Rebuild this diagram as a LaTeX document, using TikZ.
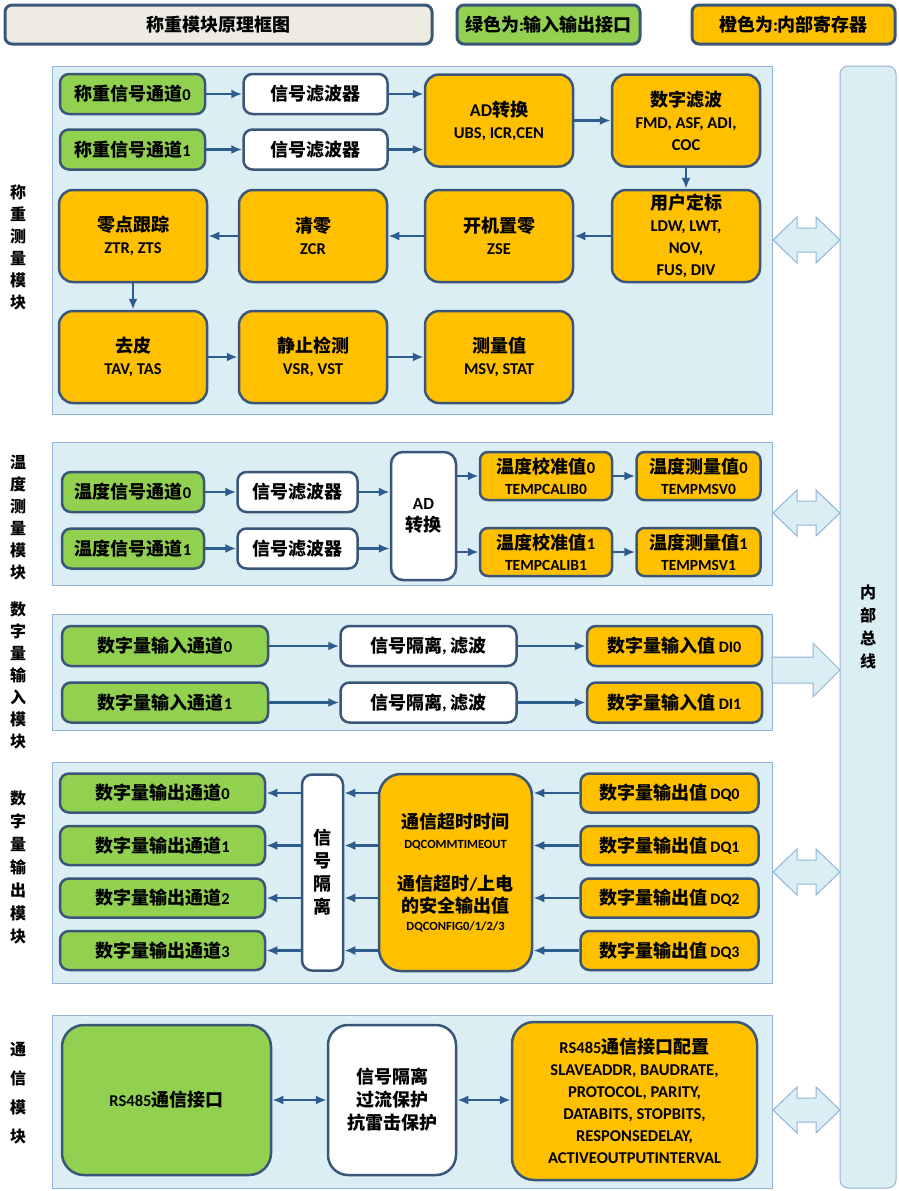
\documentclass[tikz,border=0pt]{standalone}
\usepackage{fontspec}
\setmainfont{Noto Sans CJK SC}
\newfontfamily\lat{Carlito}
\usetikzlibrary{arrows.meta,positioning,calc}
\definecolor{RegOrange}{HTML}{FFC000}
\definecolor{IoGreen}{HTML}{92D050}
\definecolor{BoxEdge}{HTML}{3A5779}
\definecolor{PanelBlue}{HTML}{DBEEF4}
\definecolor{PanelEdge}{HTML}{95B3D7}
\definecolor{ArrBlue}{HTML}{2F5C8F}
\definecolor{TitleGrey}{HTML}{EEECE1}
\newcommand{\sz}[2]{\fontsize{#1}{#2}\selectfont}
\newcommand{\en}[2][16.5]{{\lat\sz{#1}{22}#2}}
\newcommand{\busarrow}[1]{%
  \draw[fat] (773,#1) -- (797,#1-23) -- (797,#1-12) -- (816,#1-12) -- (816,#1-23)
    -- (840,#1) -- (816,#1+23) -- (816,#1+12) -- (797,#1+12) -- (797,#1+23) -- cycle;}

\begin{document}
\begin{tikzpicture}[x=1pt,y=-1pt,
    box/.style={rounded corners=9pt,draw=BoxEdge,line width=2.5pt,inner sep=1pt,align=center,font=\bfseries\sz{18}{22}},
    io/.style={box,fill=IoGreen},
    reg/.style={box,fill=RegOrange},
    proc/.style={box,fill=white},
    row/.style={minimum height=40pt},
    big/.style={minimum width=148pt,minimum height=92pt,rounded corners=14pt},
    hint/.style={box,line width=3pt,minimum height=39pt,rounded corners=7pt},
    panel/.style={draw=PanelEdge,fill=PanelBlue,line width=1pt,inner sep=0pt},
    fat/.style={draw=PanelEdge,fill=PanelBlue,line width=1pt},
    side/.style={align=center,font=\bfseries\sz{16}{22}},
    arr/.style={-{Latex[length=11pt,width=9pt]},ArrBlue,line width=2.5pt},
    darr/.style={{Latex[length=11pt,width=9pt]}-{Latex[length=11pt,width=9pt]},ArrBlue,line width=2.5pt}
  ]
  \useasboundingbox (0,0) rectangle (899,1191);

  % legend
  \node[hint,fill=TitleGrey,minimum width=427pt] (title) at (218.5,24.5) {称重模块原理框图};
  \node[hint,fill=IoGreen,minimum width=183pt] (keyio) at (548.5,24.5) {绿色为{\lat :}输入输出接口};
  \node[hint,fill=RegOrange,minimum width=203pt] (keyreg) at (793.5,24.5) {橙色为{\lat :}内部寄存器};

  % panels and bus
  \node[panel,minimum width=720pt,minimum height=348pt] (pw) at (412,240) {};
  \node[panel,minimum width=720pt,minimum height=143pt] (pt) at (412,513.5) {};
  \node[panel,minimum width=720pt,minimum height=116pt] (pdi) at (412,672) {};
  \node[panel,minimum width=720pt,minimum height=221pt] (pdo) at (412,872.5) {};
  \node[panel,minimum width=720pt,minimum height=173pt] (pc) at (412,1101.5) {};
  \node[panel,rounded corners=8pt,minimum width=56pt,minimum height=1122pt] (bus) at (868,627) {};
  \node[side,font=\bfseries\sz{16}{23}] (bustxt) at (868,627) {内\\部\\总\\线};

  \busarrow{240}
  \busarrow{513}
  \busarrow{872}
  \busarrow{1110}
  \draw[fat] (772,657) -- (813,657) -- (813,643) -- (840,670) -- (813,697) -- (813,683) -- (772,683) -- cycle;

  % side labels
  \node[side] (lw) at (18,247) {称\\重\\测\\量\\模\\块};
  \node[side] (lt) at (18,518) {温\\度\\测\\量\\模\\块};
  \node[side] (ldi) at (18,675) {数\\字\\量\\输\\入\\模\\块};
  \node[side,font=\bfseries\sz{16}{23}] (ldo) at (18,867) {数\\字\\量\\输\\出\\模\\块};
  \node[side,font=\bfseries\sz{16}{29}] (lc) at (18,1093) {通\\信\\模\\块};

  % weighing
  \node[io,row,minimum width=145pt] (wc0) at (132.5,94) {称重信号通道\en{0}};
  \node[io,row,minimum width=145pt,below=13pt of wc0] (wc1) {称重信号通道\en{1}};
  \node[proc,row,minimum width=144pt,right=36pt of wc0] (wf0) {信号滤波器};
  \node[proc,row,minimum width=144pt,right=36pt of wc1] (wf1) {信号滤波器};
  \node[reg,big] (wad) at (499,120.5) {{\lat AD}转换\\\en{UBS, ICR,CEN}};
  \node[reg,big] (wdf) at (686,120.5) {数字滤波\\\en{FMD, ASF, ADI,}\\\en{COC}};
  \node[reg,big] (wcal) at (686,236) {用户定标\\\en{LDW, LWT,}\\\en{NOV,}\\\en{FUS, DIV}};
  \node[reg,big] (wzse) at (499,236) {开机置零\\\en{ZSE}};
  \node[reg,big] (wzcr) at (313,236) {清零\\\en{ZCR}};
  \node[reg,big] (wztr) at (133,236) {零点跟踪\\\en{ZTR, ZTS}};
  \node[reg,big] (wtare) at (133,357) {去皮\\\en{TAV, TAS}};
  \node[reg,big] (wstill) at (313,357) {静止检测\\\en{VSR, VST}};
  \node[reg,big] (wmsv) at (499,357) {测量值\\\en{MSV, STAT}};
  \draw[arr] (wc0) -- (wf0);
  \draw[arr] (wc1) -- (wf1);
  \draw[arr] (wf0.east) -- (wf0.east -| wad.west);
  \draw[arr] (wf1.east) -- (wf1.east -| wad.west);
  \draw[arr] (wad) -- (wdf);
  \draw[arr] (wdf) -- (wcal);
  \draw[arr] (wcal) -- (wzse);
  \draw[arr] (wzse) -- (wzcr);
  \draw[arr] (wzcr) -- (wztr);
  \draw[arr] (wztr) -- (wtare);
  \draw[arr] (wtare) -- (wstill);
  \draw[arr] (wstill) -- (wmsv);

  % temperature
  \node[io,row,minimum width=142pt] (tc0) at (133,492) {温度信号通道\en{0}};
  \node[io,row,minimum width=142pt,below=14pt of tc0] (tc1) {温度信号通道\en{1}};
  \node[proc,row,minimum width=120pt,right=31pt of tc0] (tf0) {信号滤波器};
  \node[proc,row,minimum width=120pt,right=31pt of tc1] (tf1) {信号滤波器};
  \node[proc,minimum width=65pt,minimum height=128pt,rounded corners=12pt] (tad) at (423.5,516) {\en[17]{AD}\\转换};
  \node[reg,minimum width=132pt,minimum height=48pt,rounded corners=8pt] (tcal0) at (546,476) {温度校准值\en{0}\\[-1pt]\en[15.5]{TEMPCALIB0}};
  \node[reg,minimum width=132pt,minimum height=48pt,rounded corners=8pt] (tcal1) at (546,552) {温度校准值\en{1}\\[-1pt]\en[15.5]{TEMPCALIB1}};
  \node[reg,minimum width=124pt,minimum height=48pt,rounded corners=8pt,right=22pt of tcal0] (tmsv0) {温度测量值\en{0}\\[-1pt]\en[15.5]{TEMPMSV0}};
  \node[reg,minimum width=124pt,minimum height=48pt,rounded corners=8pt,right=22pt of tcal1] (tmsv1) {温度测量值\en{1}\\[-1pt]\en[15.5]{TEMPMSV1}};
  \draw[arr] (tc0) -- (tf0);
  \draw[arr] (tc1) -- (tf1);
  \draw[arr] (tf0.east) -- (tf0.east -| tad.west);
  \draw[arr] (tf1.east) -- (tf1.east -| tad.west);
  \draw[arr] (tad.east |- tcal0) -- (tcal0);
  \draw[arr] (tad.east |- tcal1) -- (tcal1);
  \draw[arr] (tcal0) -- (tmsv0);
  \draw[arr] (tcal1) -- (tmsv1);

  % digital input
  \node[io,row,minimum width=206pt] (dc0) at (165,646) {数字量输入通道\en{0}};
  \node[io,row,minimum width=206pt,below=14pt of dc0] (dc1) {数字量输入通道\en{1}};
  \node[proc,row,minimum width=176pt,right=70pt of dc0] (dis0) {信号隔离{\lat ,} 滤波};
  \node[proc,row,minimum width=176pt,right=70pt of dc1] (dis1) {信号隔离{\lat ,} 滤波};
  \node[reg,row,minimum width=175pt,right=68pt of dis0] (dv0) {数字量输入值\,\en[16]{DI0}};
  \node[reg,row,minimum width=175pt,right=68pt of dis1] (dv1) {数字量输入值\,\en[16]{DI1}};
  \draw[arr] (dc0) -- (dis0);
  \draw[arr] (dc1) -- (dis1);
  \draw[arr] (dis0) -- (dv0);
  \draw[arr] (dis1) -- (dv1);

  % digital output
  \node[proc,minimum width=41pt,minimum height=196pt,rounded corners=10pt,font=\bfseries\sz{18}{23}] (oiso) at (322.5,872.5) {信\\号\\隔\\离};
  \node[reg,minimum width=153pt,minimum height=197pt,rounded corners=22pt] (octl) at (455.5,872.5)
    {通信超时时间\\[-2pt]\en[12.5]{DQCOMMTIMEOUT}\\[20pt]通信超时{\lat /}上电\\的安全输出值\\[-4pt]\en[12.5]{DQCONFIG0/1/2/3}};
  \foreach \i/\y in {0/793,1/845.5,2/898,3/950.5} {
    \node[io,minimum height=39pt,minimum width=205pt] (oc\i) at (162.5,\y) {数字量输出通道\en{\i}};
    \node[reg,minimum height=39pt,minimum width=178pt] (ov\i) at (669.5,\y) {数字量输出值\,\en[16]{DQ\i}};
    \draw[arr] (ov\i.west) -- (ov\i.west -| octl.east);
    \draw[arr] (octl.west |- ov\i) -- (oiso.east |- ov\i);
    \draw[arr] (oiso.west |- oc\i) -- (oc\i.east);
  }

  % communication
  \node[io,minimum width=209pt,minimum height=150pt,rounded corners=22pt] (crs) at (166.5,1100) {\en{RS485}通信接口};
  \node[proc,minimum width=128pt,minimum height=150pt,rounded corners=20pt,font=\bfseries\sz{18}{23}] (ciso) at (392,1100) {信号隔离\\过流保护\\抗雷击保护};
  \node[reg,minimum width=245pt,minimum height=158pt,rounded corners=22pt] (ccfg) at (634.5,1101)
    {\en{RS485}通信接口配置\\\en{SLAVEADDR, BAUDRATE,}\\\en{PROTOCOL, PARITY,}\\\en{DATABITS, STOPBITS,}\\\en{RESPONSEDELAY,}\\\en{ACTIVEOUTPUTINTERVAL}};
  \draw[darr] (crs) -- (ciso);
  \draw[darr] (ciso.east) -- (ciso.east -| ccfg.west);
\end{tikzpicture}
\end{document}
